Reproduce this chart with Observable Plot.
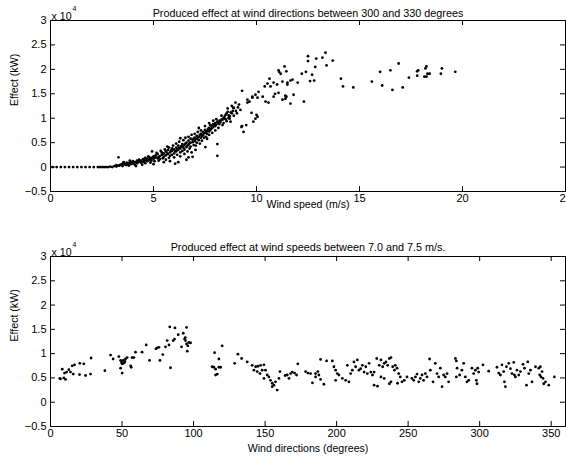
<!DOCTYPE html>
<html><head><meta charset="utf-8">
<script src="https://cdn.jsdelivr.net/npm/d3@7"></script>
<script src="https://cdn.jsdelivr.net/npm/@observablehq/plot@0.6"></script>
<style>body{margin:0;background:#fff;} svg{display:block}</style>
</head><body><div id="chart"></div>
<script>
// Panel 1: wind speed (m/s) vs effect (x 10^4 kW), directions 300-330 deg
const speedEffect = [
[0.1,0],[0.3,0],[0.5,0],[0.7,0],[0.9,0],[1.1,0],[1.3,0],[1.5,0],[1.7,0],[1.9,0],[2.1,0],[2.3,0],[2.4,0],[2.5,0],[2.6,0],[2.7,0],[2.8,0],[2.9,0.01],[3.0,0],[3.1,0.02],[3.2,0.01],
[3.2,0.04],[3.3,0.2],[3.3,0.03],[3.35,0.03],[3.4,0.05],[3.45,0.04],[3.5,0.02],[3.5,0.07],[3.55,0.1],[3.6,0.06],[3.65,0.05],[3.7,0.04],[3.7,0.09],[3.75,0.06],[3.8,0.08],[3.8,0.03],[3.85,0.13],[3.9,0.1],[3.9,0.06],[3.95,0.08],[4.0,0.12],[4.0,0.07],[4.05,0.09],[4.1,0.05],[4.1,0.1],[4.15,0.02],[4.2,0.13],[4.2,0.08],[4.25,0.1],[4.3,0.11],[4.3,0.15],[4.35,0.12],[4.4,0.09],[4.4,0.13],[4.45,0.05],[4.5,0.16],[4.5,0.11],[4.55,0.13],[4.6,0.14],[4.6,0.19],[4.6,0.08],[4.65,0.16],[4.7,0.12],[4.7,0.17],[4.75,0.14],[4.75,0.22],[4.8,0.2],[4.8,0.15],[4.85,0.17],[4.85,0.09],[4.9,0.18],[4.9,0.13],[4.93,0.32],[4.95,0.2],
[5.0,0.22],[5.0,0.17],[5.0,0.06],[5.05,0.19],[5.05,0.12],[5.1,0.2],[5.1,0.24],[5.15,0.29],[5.2,0.18],[5.2,0.27],[5.25,0.21],[5.25,0.13],[5.3,0.22],[5.3,0.16],[5.35,0.33],[5.4,0.25],[5.4,0.3],[5.45,0.26],[5.45,0.18],[5.5,0.21],[5.5,0.28],[5.5,0.1],[5.55,0.36],[5.6,0.32],[5.6,0.24],[5.6,0.15],[5.65,0.29],[5.67,0.42],[5.7,0.27],[5.7,0.35],[5.75,0.4],[5.75,0.19],[5.8,0.3],[5.8,0.23],[5.8,0.12],[5.85,0.34],[5.9,0.38],[5.9,0.33],[5.9,0.25],[5.95,0.44],
[6.0,0.36],[6.0,0.28],[6.0,0.2],[6.05,0.07],[6.05,0.33],[6.1,0.4],[6.1,0.32],[6.1,0.48],[6.15,0.37],[6.15,0.25],[6.2,0.35],[6.2,0.44],[6.2,0.1],[6.25,0.4],[6.25,0.52],[6.3,0.38],[6.3,0.3],[6.3,0.59],[6.3,0.22],[6.35,0.43],[6.4,0.42],[6.4,0.47],[6.4,0.33],[6.45,0.4],[6.45,0.55],[6.5,0.45],[6.5,0.36],[6.5,0.27],[6.55,0.48],[6.55,0.6],[6.6,0.5],[6.6,0.41],[6.6,0.15],[6.65,0.44],[6.65,0.32],[6.7,0.46],[6.7,0.54],[6.7,0.2],[6.7,0.62],[6.75,0.49],[6.75,0.38],[6.8,0.5],[6.8,0.42],[6.8,0.58],[6.85,0.66],[6.85,0.3],[6.9,0.56],[6.9,0.51],[6.9,0.21],[6.95,0.58],[6.95,0.45],
[7.0,0.6],[7.0,0.53],[7.0,0.68],[7.04,0.35],[7.05,0.57],[7.05,0.44],[7.1,0.58],[7.1,0.64],[7.1,0.5],[7.15,0.6],[7.15,0.72],[7.2,0.62],[7.2,0.55],[7.2,0.8],[7.25,0.66],[7.25,0.48],[7.3,0.68],[7.3,0.6],[7.3,0.75],[7.35,0.64],[7.35,0.54],[7.4,0.72],[7.4,0.65],[7.45,0.69],[7.45,0.6],[7.5,0.7],[7.5,0.76],[7.5,0.84],[7.52,0.41],[7.55,0.72],[7.55,0.62],[7.6,0.74],[7.6,0.68],[7.6,0.58],[7.65,0.78],[7.7,0.8],[7.7,0.73],[7.7,0.9],[7.7,0.66],[7.75,0.76],[7.75,0.86],[7.8,0.78],[7.8,0.85],[7.85,0.81],[7.85,0.7],[7.9,0.82],[7.9,0.88],[7.9,0.95],[7.95,0.86],
[8.0,0.9],[8.0,0.84],[8.0,0.75],[8.05,0.87],[8.05,0.98],[8.1,0.93],[8.1,0.47],[8.1,0.23],[8.15,0.9],[8.15,0.8],[8.2,0.88],[8.2,0.95],[8.25,0.92],[8.3,0.97],[8.3,1.05],[8.35,0.97],[8.35,0.86],[8.4,1.0],[8.4,0.9],[8.45,1.03],[8.5,1.07],[8.5,0.98],[8.55,1.1],[8.55,0.94],[8.6,1.13],[8.6,1.2],[8.64,1.0],[8.65,1.06],[8.7,1.04],[8.7,0.99],[8.74,0.93],[8.75,1.12],[8.8,1.1],[8.8,1.25],[8.85,1.15],[8.88,1.21],[8.9,1.21],[8.9,1.05],[8.98,1.32],[9.0,1.15],[9.05,1.1],[9.1,1.22],[9.15,1.28],[9.22,1.17],[9.27,0.82],[9.3,1.56],[9.3,0.84],[9.37,0.72],[9.5,0.86],[9.56,1.32],[9.56,1.38],[9.66,1.34],[9.76,1.11],[9.8,1.42],[9.8,1.44],[9.85,0.93],[9.95,1.48],[9.95,0.99],
[10.0,1.07],[10.05,1.42],[10.05,1.03],[10.1,1.54],[10.3,1.44],[10.4,1.65],[10.44,1.34],[10.53,1.71],[10.58,1.32],[10.63,1.81],[10.68,1.65],[10.83,1.73],[10.83,1.44],[10.9,1.5],[11.0,1.69],[11.07,1.98],[11.07,1.52],[11.1,1.95],[11.17,1.91],[11.26,1.75],[11.26,1.38],[11.36,2.06],[11.4,1.46],[11.4,1.4],[11.45,1.96],[11.45,1.44],[11.5,1.73],[11.5,1.69],[11.65,1.77],[11.65,1.3],[11.75,1.79],[11.8,1.48],
[12.0,1.73],[12.2,1.91],[12.3,1.34],[12.4,1.95],[12.5,2.27],[12.5,2.17],[12.6,1.76],[12.7,1.89],[12.8,1.77],[12.85,2.05],[12.9,2.22],[13.2,2.24],[13.35,2.34],[13.4,2.08],[13.7,2.18],
[14.1,1.81],[14.2,1.65],[14.7,1.63],[15.6,1.75],[16.0,1.95],[16.1,1.67],[16.5,1.98],[16.6,1.58],[16.9,2.12],[17.1,1.63],[17.4,1.83],[17.8,1.96],[17.85,1.98],[17.8,1.87],[18.2,2.02],[18.25,2.06],[18.15,1.85],[18.25,1.85],[18.3,1.91],[18.4,1.91],[18.95,1.91],[19.0,2.02],[19.65,1.95]
];

// Panel 2: wind direction (degrees) vs effect (x 10^4 kW), speeds 7.0-7.5 m/s
const directionEffect = [
[6.5,0.49],[7,0.48],[8.2,0.68],[9.3,0.5],[10.5,0.47],[9.8,0.6],[11.2,0.62],[12.8,0.67],[14,0.62],[15.2,0.75],[15.9,0.58],[16.8,0.77],[20.3,0.57],[20.5,0.8],[23.3,0.79],[24.5,0.55],[28,0.58],[28.4,0.91],[38,0.65],
[42,0.97],[43.8,0.89],[47.8,0.94],[49,0.86],[49.7,0.82],[50.8,0.86],[51.7,0.82],[52.4,0.89],[53.6,0.92],[50,0.79],[49,0.7],[50.1,0.6],[51,0.8],[52,0.84],[56,0.75],[56.4,0.72],[57,0.92],[58.3,0.92],[59.4,1.03],
[64,1.03],[66.9,1.18],[69.2,0.86],[73.7,1.1],[74.6,1.12],[75.8,1.13],[78.5,0.98],[76.5,0.86],[80.4,1.14],[81.6,1.27],[82.8,1.18],[83.4,1.55],[83.9,0.71],[85.8,1.27],[87,1.53],[86.7,1.3],[89.3,1.39],[91.6,1.14],[92.8,1.42],[93.7,1.3],[94.4,1.27],[95.1,1.54],[95.6,1.05],[96,1.16],[96.7,1.23],[97.9,1.22],[94.2,1.33],[95.1,1.2],
[113,0.73],[114.2,0.72],[115.4,0.68],[114.7,1.02],[116.6,0.58],[115.4,0.56],[117.7,0.89],[117.7,0.72],[118.9,0.72],[120,1.16],
[128.7,0.8],[131,0.99],[133.6,0.9],[137.5,0.83],[141,0.76],[143.4,0.73],[145,0.74],[146.9,0.76],[149.2,0.77],[142.2,0.66],[144.5,0.63],[146.4,0.59],[148,0.66],[150.3,0.66],[151.5,0.56],[152.7,0.52],[149.2,0.49],[153.8,0.45],[155,0.39],[156.2,0.35],[157.3,0.42],[158.5,0.25],[159.7,0.49],[160.4,0.63],[155,0.32],
[164,0.55],[165.5,0.56],[166.7,0.49],[167.8,0.59],[169,0.62],[170.6,0.6],[172,0.56],[172.9,0.79],[178.3,0.63],[179.9,0.6],[181.8,0.59],[185.3,0.59],[186.9,0.63],[183.1,0.4],[185.3,0.52],[188.8,0.47],[188.8,0.88],[193,0.85],[197,0.85],[187.6,0.56],[191.1,0.37],[198.1,0.73],[199.3,0.66],
[200.5,0.59],[201.6,0.56],[199.3,0.45],[204,0.49],[206.3,0.45],[208.6,0.42],[207.5,0.76],[209.8,0.59],[211,0.66],[212.1,0.83],[213.3,0.73],[214.5,0.87],[215.6,0.66],[216.8,0.69],[218,0.76],[219.2,0.62],[220.4,0.73],[221.5,0.59],[222.7,0.8],[223.9,0.62],[225.1,0.56],[226.2,0.62],[228.1,0.9],[228.6,0.33],[229.8,0.76],[231,0.87],[232.2,0.73],[233.3,0.8],[234.5,0.83],[235.7,0.76],[236.9,0.9],[238,0.92],[239.2,0.73],[240.4,0.66],[236.9,0.38],[238,0.42],[226.2,0.35],[233.3,0.49],[231,0.52],
[241,0.76],[242.2,0.7],[243.4,0.59],[244.5,0.52],[242.6,0.39],[245.7,0.42],[247.3,0.45],[249.2,0.52],[252.7,0.49],[253.9,0.45],[255.1,0.52],[256.2,0.58],[257.4,0.42],[258.5,0.49],[259.7,0.56],[260.8,0.45],[262,0.59],[263.2,0.52],[265,0.89],[265.5,0.66],[267.4,0.42],[269,0.8],[270.2,0.59],[271.3,0.52],[272.5,0.7],[273.7,0.32],[274.8,0.56],[276,0.52],[277.2,0.59],[278.3,0.42],
[283,0.9],[283.7,0.85],[284.2,0.7],[283.7,0.52],[286,0.56],[287.6,0.66],[288.8,0.8],[290,0.52],[291.1,0.42],[292.3,0.45],[294.6,0.7],[295.8,0.59],[297,0.66],[297.7,0.45],[298.1,0.38],[298.6,0.7],[299.3,0.62],[302.3,0.77],[306.3,0.64],
[312.1,0.72],[313.3,0.6],[314.5,0.56],[315.6,0.77],[316.8,0.63],[317.3,0.42],[318,0.32],[318.7,0.73],[320.3,0.8],[321.5,0.69],[322.6,0.59],[323.8,0.82],[324.3,0.56],[325,0.52],[326.1,0.66],[327.3,0.56],[328.5,0.63],[330.3,0.78],[331.3,0.7],[332.7,0.35],[333.6,0.83],[334.3,0.59],[335.5,0.66],[336.6,0.42],[339,0.73],[341.3,0.7],[342,0.56],[342.9,0.52],[343.6,0.63],[344.3,0.49],[344.8,0.38],[346,0.42],[348.3,0.35],[352.2,0.52],[342.4,0.73]
];

const effectTicks = [-0.5, 0, 0.5, 1, 1.5, 2, 2.5, 3];
const speedTicks = [0, 5, 10, 15, 20, 25];
const directionTicks = [0, 50, 100, 150, 200, 250, 300, 350];

const FONT = "'Liberation Sans', Arial, Helvetica, sans-serif";

function panel({data, xDomain, xTicks, title, xLabel, height, marginTop, marginBottom, titleDy, xLabelDy}) {
  const W = 566, ml = 50, mr = 1;
  const frameH = height - marginTop - marginBottom;
  const frameW = W - ml - mr;
  const tk = 5;
  return Plot.plot({
    width: W, height, marginLeft: ml, marginRight: mr, marginTop, marginBottom,
    style: {fontFamily: FONT, fontSize: "11px", background: "white", color: "black"},
    x: {domain: xDomain, ticks: xTicks, tickSize: 0, tickPadding: 3, label: null},
    y: {domain: [-0.5, 3], ticks: effectTicks, tickSize: 0, tickPadding: 4, label: null, tickFormat: d => d3.format("")(d).replace("-", "\u2212")},
    marks: [
      Plot.dot(data, {x: d => d[0], y: d => d[1], r: 1.4, fill: "black"}),
      Plot.tickX(xTicks, {x: d => d, insetTop: frameH - tk, stroke: "black"}),
      Plot.tickX(xTicks, {x: d => d, insetBottom: frameH - tk, stroke: "black"}),
      Plot.tickY(effectTicks, {y: d => d, insetRight: frameW - tk, stroke: "black"}),
      Plot.tickY(effectTicks, {y: d => d, insetLeft: frameW - tk, stroke: "black"}),
      Plot.frame({stroke: "black", strokeWidth: 1}),
      Plot.text([title], {text: d => d, frameAnchor: "top", dy: titleDy, fontSize: 10.8}),
      Plot.text([xLabel], {text: d => d, frameAnchor: "bottom", dy: xLabelDy, fontSize: 10.6}),
      Plot.text(["Effect (kW)"], {text: d => d, frameAnchor: "left", rotate: -90, dx: -36, fontSize: 10.6}),
      Plot.text(["x 10"], {text: d => d, frameAnchor: "top-left", textAnchor: "start", dy: -8, dx: 1, fontSize: 10.6}),
      Plot.text(["4"], {text: d => d, frameAnchor: "top-left", textAnchor: "start", dy: -14, dx: 22, fontSize: 7})
    ]
  });
}

const chart = document.getElementById("chart");
chart.append(panel({
  data: speedEffect, xDomain: [0, 25], xTicks: speedTicks,
  title: "Produced effect at wind directions between 300 and 330 degrees",
  xLabel: "Wind speed (m/s)", height: 232, marginTop: 20, marginBottom: 41, titleDy: -11, xLabelDy: 16
}));
chart.append(panel({
  data: directionEffect, xDomain: [0, 360], xTicks: directionTicks,
  title: "Produced effect at wind speeds between 7.0 and 7.5 m/s.",
  xLabel: "Wind directions (degrees)", height: 232, marginTop: 24, marginBottom: 38, titleDy: -13, xLabelDy: 25
}));
</script>
</body></html>
